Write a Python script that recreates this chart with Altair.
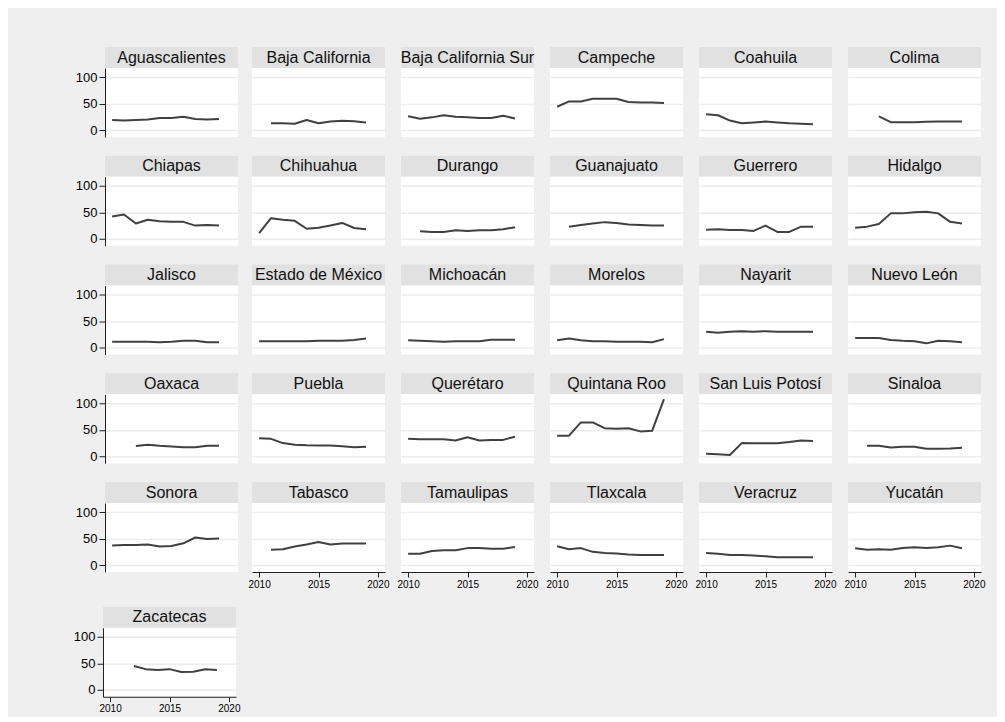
import altair as alt
import pandas as pd

years = list(range(2010, 2020))

states = [
    "Aguascalientes", "Baja California", "Baja California Sur", "Campeche", "Coahuila", "Colima",
    "Chiapas", "Chihuahua", "Durango", "Guanajuato", "Guerrero", "Hidalgo",
    "Jalisco", "Estado de México", "Michoacán", "Morelos", "Nayarit", "Nuevo León",
    "Oaxaca", "Puebla", "Querétaro", "Quintana Roo", "San Luis Potosí", "Sinaloa",
    "Sonora", "Tabasco", "Tamaulipas", "Tlaxcala", "Veracruz", "Yucatán",
    "Zacatecas",
]

aguascalientes = [19, 18, 19, 20, 23, 23, 25, 21, 20, 21]
baja_california = [None, 13, 13, 12, 19, 13, 16, 17.5, 16.5, 14.5]
baja_california_sur = [26, 21.5, 24, 28, 25, 24, 23, 23, 27, 22]
campeche = [44, 54, 54, 59, 59, 59, 53, 52, 52, 51]
coahuila = [30, 28, 18, 13, 14.5, 16, 14.5, 13, 12, 11]
colima = [None, None, 26, 15, 15, 15, 15.5, 16, 16, 16]
chiapas = [42, 46, 29, 36, 33, 32, 32, 25, 26, 25]
chihuahua = [11, 39, 36, 34, 19, 21, 25, 30, 20.5, 18]
durango = [None, 14.5, 13, 13, 16, 15, 16, 16, 18, 22]
guanajuato = [None, 23, 26, 29, 31.5, 30, 27, 26, 25, 25]
guerrero = [17, 18, 16.5, 16.5, 15, 25, 13, 13, 23, 23]
hidalgo = [21, 23, 28, 48, 48, 50, 51, 48, 32, 29]
jalisco = [11, 11, 11, 11, 10, 11, 13, 13, 10, 10]
estado_de_mexico = [12, 12, 12, 12, 12, 13, 13, 13, 14.5, 17]
michoacan = [14, 13, 12, 11, 12, 12, 12, 15, 15, 15]
morelos = [14, 17, 14, 12, 12, 11, 11, 11, 10, 16]
nayarit = [30, 28, 30, 31, 30, 31, 30, 30, 30, 30]
nuevo_leon = [18, 18, 18, 14.5, 13, 12, 8, 13, 12, 10]
oaxaca = [None, None, 19.6, 22, 20, 18.5, 17, 17, 20, 20]
puebla = [34, 33, 25, 22, 21, 20.5, 20.5, 19, 17, 18]
queretaro = [33, 32, 32, 32, 30, 36, 30, 31, 31, 37]
quintana_roo = [39, 39, 64, 64, 53, 52, 53, 47, 48, 108]
san_luis_potosi = [5, 4, 2.5, 25, 24.7, 24.7, 24.7, 27, 30, 29]
sinaloa = [None, 20, 20, 16.5, 18, 18, 14.5, 14.5, 15, 16]
sonora = [37, 38, 38, 39, 35, 36, 41, 52, 49, 50]
tabasco = [None, 29, 30, 35, 39, 43.7, 39, 40.5, 40.5, 40.5]
tamaulipas = [21.5, 21.5, 26.6, 28, 28, 32, 32, 31, 31, 34]
tlaxcala = [35.4, 30, 32, 25, 23, 22, 20, 19, 19, 19]
veracruz = [23, 21.5, 19, 19, 18, 16.5, 15, 15, 15, 15]
yucatan = [31.6, 29, 30, 29, 32, 33.5, 32, 33.5, 36.7, 31.6]
zacatecas = [None, None, 45, 39, 37.5, 39, 33.75, 34, 39, 37.5]

series = [
    aguascalientes, baja_california, baja_california_sur, campeche, coahuila, colima,
    chiapas, chihuahua, durango, guanajuato, guerrero, hidalgo,
    jalisco, estado_de_mexico, michoacan, morelos, nayarit, nuevo_leon,
    oaxaca, puebla, queretaro, quintana_roo, san_luis_potosi, sinaloa,
    sonora, tabasco, tamaulipas, tlaxcala, veracruz, yucatan,
    zacatecas,
]

y_ticks = [0, 50, 100]
x_ticks = [2010, 2015, 2020]

FONT = "Liberation Sans"
BG = "#efefef"
HEAD = "#e1e1e1"
GRID = "#ececec"
LINE = "#404040"
AXIS = "#222222"
PW, PH, HH = 133, 69, 21
NCOL = 6

cells = []
for i, (name, vals) in enumerate(zip(states, series)):
    col = i % NCOL
    bottom = i >= 25
    df = pd.DataFrame({"year": years, "value": vals}).dropna()

    header = (
        alt.Chart(pd.DataFrame({"state": [name]}))
        .mark_text(fontSize=16, font=FONT, color="#111111")
        .encode(text="state:N")
        .properties(width=PW, height=HH,
                    view=alt.ViewBackground(fill=HEAD, stroke="transparent", strokeWidth=0))
    )

    if col == 0:
        yaxis = alt.Axis(values=y_ticks, title=None, grid=True, gridColor=GRID,
                         gridWidth=1.5, labelFontSize=13, labelFont=FONT,
                         labelColor="#000000", tickSize=6, tickColor=AXIS,
                         domainColor=AXIS, labelPadding=2)
    else:
        yaxis = alt.Axis(values=y_ticks, title=None, grid=True, gridColor=GRID,
                         gridWidth=1.5, labels=False, ticks=False, domain=False)

    xscale = alt.Scale(domain=[2009.4, 2020.6], nice=False, zero=False)
    if bottom:
        xenc = alt.X("year:Q", scale=xscale,
                     axis=alt.Axis(values=x_ticks, format="d", title=None, grid=False,
                                   labelFontSize=10, labelFont=FONT, labelColor="#000000",
                                   tickSize=5, tickColor=AXIS, domainColor=AXIS,
                                   labelPadding=2))
    else:
        xenc = alt.X("year:Q", scale=xscale, axis=None)

    line = (
        alt.Chart(df)
        .mark_line(color=LINE, strokeWidth=2, strokeJoin="round")
        .encode(
            x=xenc,
            y=alt.Y("value:Q", scale=alt.Scale(domain=[-13, 117], nice=False, zero=False),
                    axis=yaxis),
        )
        .properties(width=PW, height=PH,
                    view=alt.ViewBackground(fill="white", stroke="transparent", strokeWidth=0))
    )

    cells.append(alt.vconcat(header, line, spacing=0, bounds="flush"))

chart = (
    alt.concat(*cells, columns=NCOL, spacing={"row": 17.75, "column": 8},
               align="each", center={"row": False, "column": True})
    .properties(padding={"left": 65, "top": 39, "right": 12, "bottom": 3},
                background=BG)
    .configure(font=FONT)
    .configure_view(fill="white", stroke="transparent", strokeWidth=0)
)

chart.save("out.html", embed_options={"renderer": "svg", "actions": False})
